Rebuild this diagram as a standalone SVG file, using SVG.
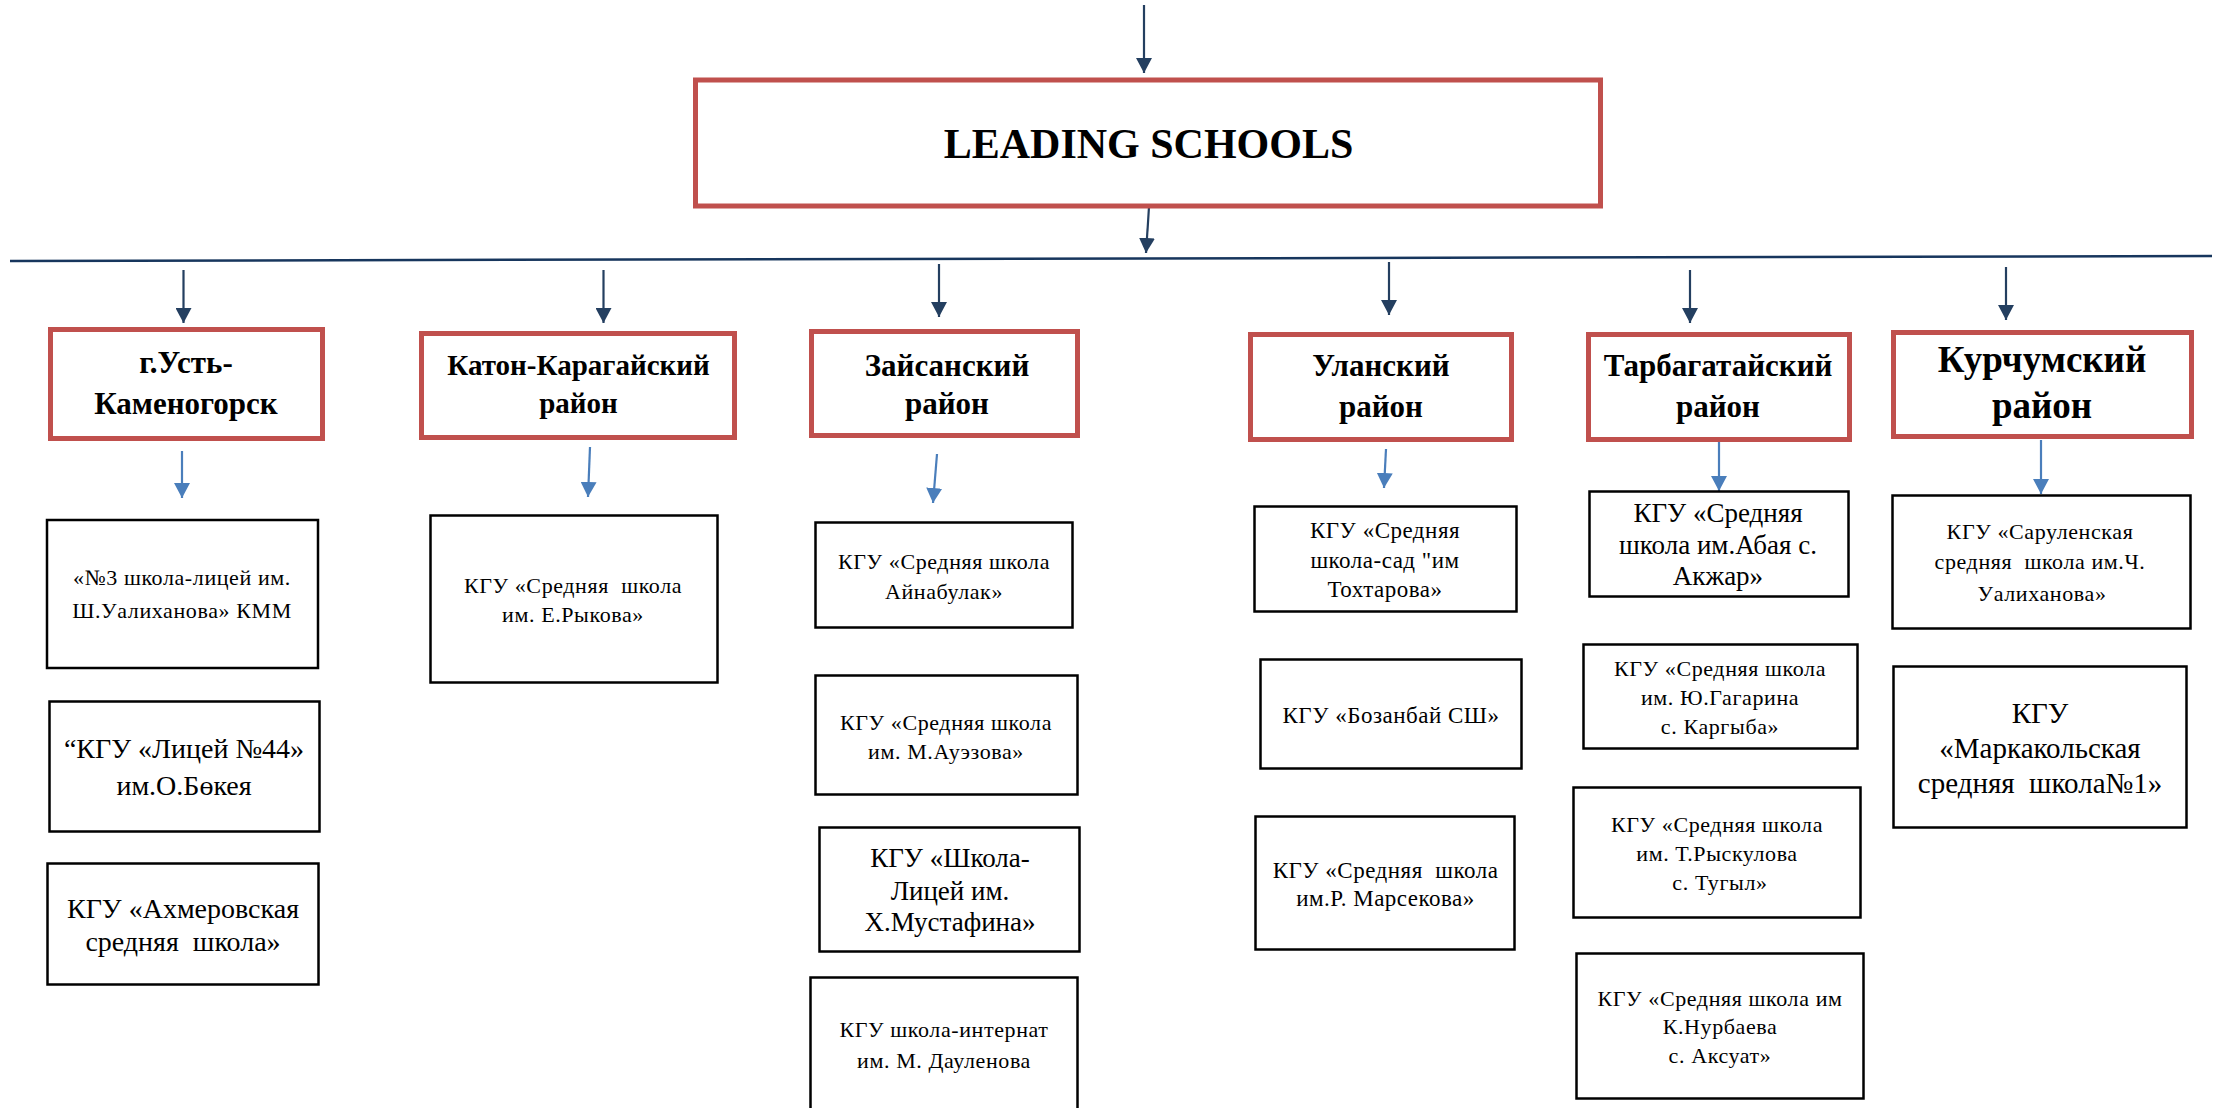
<svg xmlns="http://www.w3.org/2000/svg" width="2214" height="1108" viewBox="0 0 2214 1108">
<defs>
<style>
.main{fill:#fff;stroke:#C0504D;stroke-width:5}
.dist{fill:#fff;stroke:#C0504D;stroke-width:5}
.sch{fill:#fff;stroke:#000;stroke-width:2.5}
.t{font-family:"Liberation Serif","Times New Roman",serif;fill:#000;text-anchor:middle}
.tb{font-family:"Liberation Serif","Times New Roman",serif;fill:#000;text-anchor:middle;font-weight:bold}
.dk{stroke:#243F60;stroke-width:2.2;fill:none;marker-end:url(#ad)}
.bl{stroke:#4A7EBB;stroke-width:2.2;fill:none;marker-end:url(#ab)}
.s22{font-size:22px;letter-spacing:0.6px}
.s23{font-size:23px;letter-spacing:0.5px}
.s27{font-size:27px}
.s28{font-size:28px}
.s29{font-size:29px}
.s31{font-size:31px}
</style>
<marker id="ad" viewBox="0 0 15 16" refX="15" refY="8" markerWidth="15" markerHeight="16" markerUnits="userSpaceOnUse" orient="auto"><path d="M0,0 L15,8 L0,16 Z" fill="#243F60"/></marker>
<marker id="ab" viewBox="0 0 15 16" refX="15" refY="8" markerWidth="15" markerHeight="16" markerUnits="userSpaceOnUse" orient="auto"><path d="M0,0 L15,8 L0,16 Z" fill="#4A7EBB"/></marker>
</defs>
<rect width="2214" height="1108" fill="#fff"/>

<g id="connectors">
<line class="dk" x1="1144" y1="5" x2="1144" y2="73"/>
<line class="dk" x1="1149" y1="207" x2="1146" y2="253"/>
<line x1="10" y1="261" x2="2212" y2="256" stroke="#17365D" stroke-width="2.5"/>
<line class="dk" x1="183.5" y1="270" x2="183.5" y2="323"/>
<line class="dk" x1="603.5" y1="270" x2="603.5" y2="323"/>
<line class="dk" x1="939" y1="264" x2="939" y2="317"/>
<line class="dk" x1="1389" y1="262" x2="1389" y2="315"/>
<line class="dk" x1="1690" y1="270" x2="1690" y2="323"/>
<line class="dk" x1="2006" y1="267" x2="2006" y2="320"/>
<line class="bl" x1="182" y1="451" x2="182" y2="498"/>
<line class="bl" x1="590" y1="447" x2="588" y2="497"/>
<line class="bl" x1="937" y1="454" x2="933" y2="503"/>
<line class="bl" x1="1386" y1="449" x2="1384" y2="488"/>
<line class="bl" x1="1719" y1="441" x2="1719" y2="491"/>
<line class="bl" x1="2041" y1="440" x2="2041" y2="494"/>
</g>

<g id="main">
<rect class="main" x="695.5" y="80" width="905" height="126"/>
<text class="tb" x="1148.5" y="158" font-size="42">LEADING SCHOOLS</text>
</g>

<g id="d1"><rect class="dist" x="50.5" y="329.5" width="272" height="109"/>
<text class="tb s31" x="186" y="373">г.Усть-</text><text class="tb s31" x="186" y="414">Каменогорск</text></g>
<g id="d2"><rect class="dist" x="421.5" y="333.5" width="313" height="104"/>
<text class="tb s29" x="578.5" y="375">Катон-Карагайский</text><text class="tb s29" x="578.5" y="413">район</text></g>
<g id="d3"><rect class="dist" x="811.5" y="331.5" width="266" height="104"/>
<text class="tb s31" x="947" y="376">Зайсанский</text><text class="tb s31" x="947" y="414">район</text></g>
<g id="d4"><rect class="dist" x="1250.5" y="334.5" width="261" height="105"/>
<text class="tb s31" x="1381" y="376">Уланский</text><text class="tb s31" x="1381" y="417">район</text></g>
<g id="d5"><rect class="dist" x="1588.5" y="334.5" width="261" height="105"/>
<text class="tb s31" x="1718" y="376">Тарбагатайский</text><text class="tb s31" x="1718" y="417">район</text></g>
<g id="d6"><rect class="dist" x="1893.5" y="332.5" width="298" height="104"/>
<text class="tb" font-size="37" x="2042" y="372">Курчумский</text><text class="tb" font-size="37" x="2042" y="418">район</text></g>

<g id="s1a"><rect class="sch" x="47" y="520" width="271" height="148"/>
<text class="t s22" x="182" y="585">«№3 школа-лицей им.</text><text class="t s22" x="182" y="618">Ш.Уалиханова» КММ</text></g>
<g id="s1b"><rect class="sch" x="49.5" y="701.5" width="270" height="130"/>
<text class="t s28" x="184" y="758">“КГУ «Лицей №44»</text><text class="t s28" x="184" y="795">им.О.Бөкея</text></g>
<g id="s1c"><rect class="sch" x="47.5" y="863.5" width="271" height="121"/>
<text class="t s28" x="183" y="918">КГУ «Ахмеровская</text><text class="t s28" x="183" y="951" xml:space="preserve">средняя  школа»</text></g>

<g id="s2a"><rect class="sch" x="430.5" y="515.5" width="287" height="167"/>
<text class="t s22" x="573" y="593" xml:space="preserve">КГУ «Средняя  школа</text><text class="t s22" x="573" y="622">им. Е.Рыкова»</text></g>

<g id="s3a"><rect class="sch" x="815.5" y="522.5" width="257" height="105"/>
<text class="t s22" x="944" y="569">КГУ «Средняя школа</text><text class="t s22" x="944" y="599">Айнабулак»</text></g>
<g id="s3b"><rect class="sch" x="815.5" y="675.5" width="262" height="119"/>
<text class="t s22" x="946" y="730">КГУ «Средняя школа</text><text class="t s22" x="946" y="759">им. М.Ауэзова»</text></g>
<g id="s3c"><rect class="sch" x="819.5" y="827.5" width="260" height="124"/>
<text class="t s27" x="950" y="867">КГУ «Школа-</text><text class="t s27" x="950" y="900">Лицей им.</text><text class="t s27" x="950" y="931">Х.Мустафина»</text></g>
<g id="s3d"><rect class="sch" x="810.5" y="977.5" width="267" height="140"/>
<text class="t s22" x="944" y="1037">КГУ школа-интернат</text><text class="t s22" x="944" y="1068">им. М. Дауленова</text></g>

<g id="s4a"><rect class="sch" x="1254.5" y="506.5" width="262" height="105"/>
<text class="t s23" x="1385" y="538">КГУ «Средняя</text><text class="t s23" x="1385" y="568">школа-сад "им</text><text class="t s23" x="1385" y="597">Тохтарова»</text></g>
<g id="s4b"><rect class="sch" x="1260.5" y="659.5" width="261" height="109"/>
<text class="t s23" x="1391" y="723">КГУ «Бозанбай СШ»</text></g>
<g id="s4c"><rect class="sch" x="1255.5" y="816.5" width="259" height="133"/>
<text class="t s23" x="1385.5" y="878" xml:space="preserve">КГУ «Средняя  школа</text><text class="t s23" x="1385.5" y="906">им.Р. Марсекова»</text></g>

<g id="s5a"><rect class="sch" x="1589.5" y="491.5" width="259" height="105"/>
<text class="t s27" x="1718" y="522">КГУ «Средняя</text><text class="t s27" x="1718" y="554">школа им.Абая с.</text><text class="t s27" x="1718" y="585">Акжар»</text></g>
<g id="s5b"><rect class="sch" x="1583.5" y="644.5" width="274" height="104"/>
<text class="t s22" x="1720" y="676">КГУ «Средняя школа</text><text class="t s22" x="1720" y="705">им. Ю.Гагарина</text><text class="t s22" x="1720" y="734">с. Каргыба»</text></g>
<g id="s5c"><rect class="sch" x="1573.5" y="787.5" width="287" height="130"/>
<text class="t s22" x="1717" y="832">КГУ «Средняя школа</text><text class="t s22" x="1717" y="861">им. Т.Рыскулова</text><text class="t s22" x="1720" y="890">с. Тугыл»</text></g>
<g id="s5d"><rect class="sch" x="1576.5" y="953.5" width="287" height="145"/>
<text class="t s22" x="1720" y="1006">КГУ «Средняя школа им</text><text class="t s22" x="1720" y="1034">К.Нурбаева</text><text class="t s22" x="1720" y="1063">с. Аксуат»</text></g>

<g id="s6a"><rect class="sch" x="1892.5" y="495.5" width="298" height="133"/>
<text class="t s22" x="2040" y="539">КГУ «Саруленская</text><text class="t s22" x="2040" y="569" xml:space="preserve">средняя  школа им.Ч.</text><text class="t s22" x="2042" y="601">Уалиханова»</text></g>
<g id="s6b"><rect class="sch" x="1893.5" y="666.5" width="293" height="161"/>
<text class="t s29" x="2040" y="723">КГУ</text><text class="t s29" x="2040" y="758">«Маркакольская</text><text class="t s29" x="2040" y="793" xml:space="preserve">средняя  школа№1»</text></g>
</svg>
